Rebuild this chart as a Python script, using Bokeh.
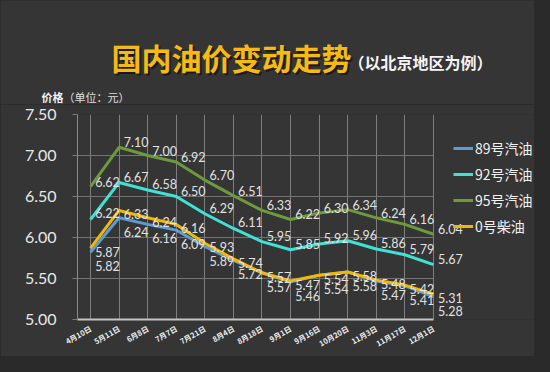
from bokeh.plotting import figure
from bokeh.models import (Range1d, FixedTicker, Legend, LegendItem, NumeralTickFormatter,
                          ColumnDataSource, GlobalInlineStyleSheet)
from bokeh.core.properties import value
from bokeh.embed import file_html
from bokeh.resources import INLINE

dates = ["4月10日", "5月11日", "6月8日", "7月7日", "7月21日", "8月4日", "8月18日",
         "9月1日", "9月16日", "10月20日", "11月3日", "11月17日", "12月1日"]
gas89 = [5.82, 6.24, 6.16, 6.09, 5.89, 5.72, 5.57, 5.46, 5.54, 5.58, 5.47, 5.41, 5.28]
gas92 = [6.22, 6.67, 6.58, 6.50, 6.29, 6.11, 5.95, 5.85, 5.92, 5.96, 5.86, 5.79, 5.67]
gas95 = [6.62, 7.10, 7.00, 6.92, 6.70, 6.51, 6.33, 6.22, 6.30, 6.34, 6.24, 6.16, 6.04]
diesel0 = [5.87, 6.33, 6.24, 6.16, 5.93, 5.74, 5.57, 5.47, 5.54, 5.58, 5.48, 5.42, 5.31]
series_names = ["89号汽油", "92号汽油", "95号汽油", "0号柴油"]
y_ticks = [5.0, 5.5, 6.0, 6.5, 7.0, 7.5]
title_text = "国内油价变动走势"
subtitle_text = "（以北京地区为例）"
unit_bold = "价格"
unit_text = "（单位：元）"

BG = "#353535"
CJK = "Noto Sans CJK SC"
NUM = "Lato"
W = 534
TOP_H = 104
MAIN_H = 356 - TOP_H
sheet = GlobalInlineStyleSheet(css="html, body { background: #2a2a2a; }")

# ---------------- title strip (pixel-like coordinates) ----------------
t = figure(width=W, height=TOP_H, output_backend="svg", toolbar_location=None,
           x_range=Range1d(0, W), y_range=Range1d(TOP_H, 0),
           min_border_left=0, min_border_right=0, min_border_top=0, min_border_bottom=0)
t.xaxis.visible = False
t.yaxis.visible = False
t.background_fill_color = BG
t.border_fill_color = BG
t.outline_line_color = None
t.grid.visible = False
t.stylesheets = [sheet]

t.text(x=[113], y=[58], text=[title_text], text_font=value(CJK), text_font_style="bold",
       text_font_size="30px", text_color="#000000", text_alpha=0.5, text_baseline="middle")
t.text(x=[111], y=[56], text=[title_text], text_font=value(CJK), text_font_style="bold",
       text_font_size="30px", text_color="#f5ba14", text_baseline="middle")
t.text(x=[348], y=[61], text=[subtitle_text], text_font=value(CJK), text_font_style="bold",
       text_font_size="16px", text_color="#f4f4f4", text_baseline="middle")
t.text(x=[41], y=[96], text=[unit_bold], text_font=value(CJK), text_font_style="bold",
       text_font_size="11px", text_color="#f0f0f0", text_baseline="middle")
t.text(x=[63], y=[96], text=[unit_text], text_font=value(CJK),
       text_font_size="11px", text_color="#e0e0e0", text_baseline="middle")

# ---------------- main chart ----------------
xs = list(range(len(dates)))
x_lo, x_hi = -0.455, 15.535
p = figure(width=W, height=MAIN_H, output_backend="svg", toolbar_location=None,
           x_range=Range1d(x_lo, x_hi), y_range=Range1d(5.0, 7.5),
           min_border_left=77, min_border_right=0, min_border_top=10,
           min_border_bottom=25)
p.background_fill_color = BG
p.border_fill_color = BG
p.outline_line_color = None

p.xaxis.ticker = FixedTicker(ticks=xs)
p.xaxis.bounds = (x_lo, xs[-1])
p.xaxis.major_label_overrides = {i: d for i, d in enumerate(dates)}
p.xaxis.major_label_orientation = 0.52
p.xaxis.major_label_text_font = CJK
p.xaxis.major_label_text_font_style = "bold"
p.xaxis.major_label_text_font_size = "7.5px"
p.xaxis.major_label_text_color = "#eeeeee"
p.xaxis.major_label_standoff = 2
p.xaxis.axis_line_color = "#c4c4c4"
p.xaxis.axis_line_width = 2
p.xaxis.major_tick_line_color = None
p.xaxis.minor_tick_line_color = None

p.yaxis.ticker = FixedTicker(ticks=y_ticks)
p.yaxis.formatter = NumeralTickFormatter(format="0.00")
p.yaxis.major_label_text_font = NUM
p.yaxis.major_label_text_font_size = "16px"
p.yaxis.major_label_text_color = "#e8e8e8"
p.yaxis.major_label_standoff = 16
p.yaxis.axis_line_color = "#8a8a8a"
p.yaxis.major_tick_line_color = "#7a7a7a"
p.yaxis.major_tick_out = 5
p.yaxis.major_tick_in = 0
p.yaxis.minor_tick_line_color = None

p.xgrid.ticker = FixedTicker(ticks=xs)
p.xgrid.grid_line_color = "#7e7e7e"
ygrid = p.ygrid[0]
ygrid.ticker = FixedTicker(ticks=y_ticks)
if "cross_bounds" in ygrid.properties():
    ygrid.grid_line_color = "#747474"
    ygrid.cross_bounds = (x_lo, xs[-1])
else:
    ygrid.visible = False
    p.segment(x0=[x_lo] * len(y_ticks), x1=[xs[-1]] * len(y_ticks), y0=y_ticks, y1=y_ticks,
              line_color="#747474", line_width=1, level="underlay")

colors = {"89号汽油": "#5d9bd3", "92号汽油": "#3fe3d3",
          "95号汽油": "#6c9a3c", "0号柴油": "#f2b800"}
data = {"89号汽油": gas89, "92号汽油": gas92, "95号汽油": gas95, "0号柴油": diesel0}
label_dy = {"89号汽油": 14, "92号汽油": -6, "95号汽油": -5, "0号柴油": 4}

renderers = {}
for name in ["95号汽油", "92号汽油", "89号汽油", "0号柴油"]:
    renderers[name] = p.line(xs, data[name], line_color=colors[name], line_width=3)

for name in series_names:
    src = ColumnDataSource(dict(x=xs, y=data[name], t=["%.2f" % v for v in data[name]]))
    p.text(x="x", y="y", text="t", source=src, x_offset=17, y_offset=label_dy[name],
           text_align="center", text_baseline="middle", text_font=value(NUM),
           text_font_size="12.5px", text_color="#e2e2e2")

legend = Legend(items=[LegendItem(label=n, renderers=[renderers[n]]) for n in series_names],
                location=(376, 81), label_text_color="#f2f2f2", label_text_font=CJK,
                label_text_font_size="14px", glyph_width=20, glyph_height=24,
                label_height=24, spacing=2, padding=0, margin=0, label_standoff=2,
                background_fill_alpha=0, border_line_color=None)
p.add_layout(legend)

open("out.html", "w").write(file_html([t, p], INLINE))
